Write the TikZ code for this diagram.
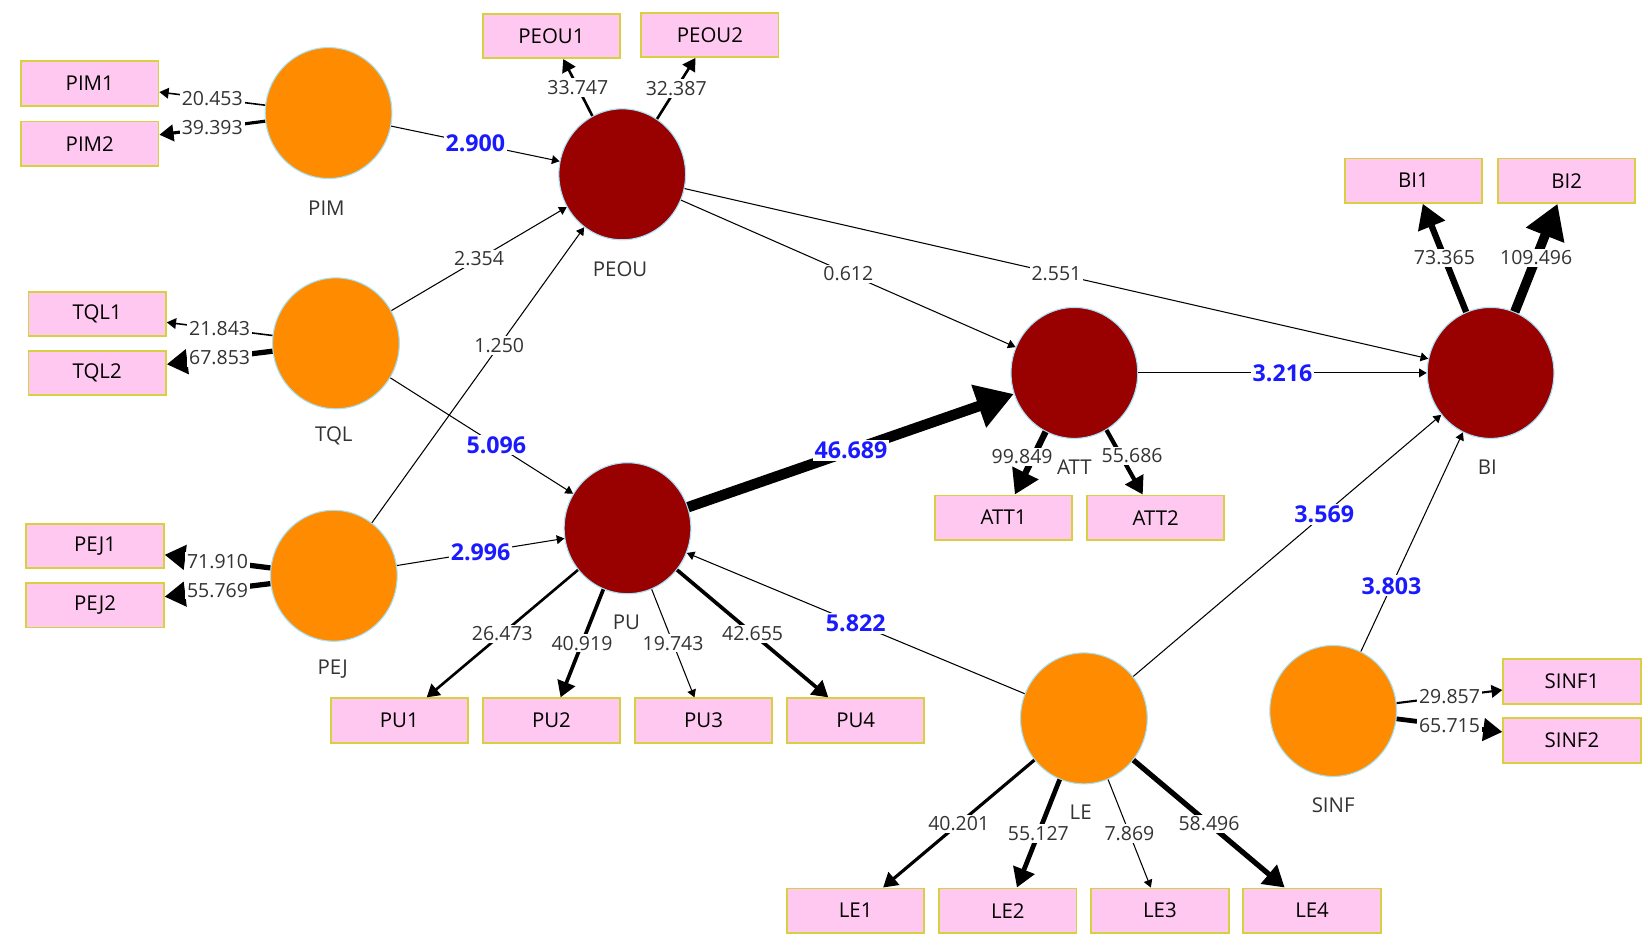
\documentclass[tikz,border=0pt]{standalone}
\usepackage{fontspec}
\setmainfont{Open Sans}
\usetikzlibrary{shapes.geometric,arrows.meta}
\definecolor{org}{HTML}{FF8C00}
\definecolor{drk}{HTML}{990000}
\definecolor{pnk}{HTML}{FFC8F0}
\definecolor{ybd}{HTML}{D8D040}
\definecolor{blu}{HTML}{1A1AFF}
\begin{document}
\begin{tikzpicture}[x=0.02cm,y=-0.02cm,
 lat/.style={ellipse,minimum width=2.4cm,minimum height=2.48cm,draw=cyan!35,line width=0.6pt,inner sep=0},
 ex/.style={lat,fill=org},
 en/.style={lat,fill=drk},
 box/.style={rectangle,fill=pnk,draw=ybd,line width=1pt,minimum width=2.6cm,minimum height=0.84cm,font=\fontsize{11}{13}\selectfont},
 nm/.style={font=\fontsize{11}{13}\selectfont,text=black!80},
 lab/.style={fill=white,inner sep=1pt,font=\fontsize{10.5}{13}\selectfont,text=black!80},
 pc/.style={fill=white,inner sep=1pt,font=\fontsize{12.5}{14}\selectfont\bfseries,text=blu},
 e/.style={draw=black,line width=#1*0.567pt,-{Triangle}},
 e/.default=1]
\useasboundingbox (0,0) rectangle (1560,897);
% latent
\node[ex] (PIM) at (311,107) {};
\node[en] (PEOU) at (589,165) {};
\node[ex] (TQL) at (318,325) {};
\node[ex] (PEJ) at (316,545) {};
\node[en] (PU) at (594,500) {};
\node[en] (ATT) at (1017,353) {};
\node[en] (BI) at (1411,353) {};
\node[ex] (LE) at (1026,680) {};
\node[ex] (SINF) at (1262,673) {};
\node[nm] (nPIM) at (309,197) {PIM};
\node[nm] (nPEOU) at (587,255) {PEOU};
\node[nm] (nTQL) at (316,413) {TQL};
\node[nm] (nPEJ) at (315,633) {PEJ};
\node[nm] (nPU) at (593,589) {PU};
\node[nm] (nBI) at (1408,442) {BI};
\node[nm] (nLE) at (1023,769) {LE};
\node[nm] (nSINF) at (1262,762) {SINF};
% indicators
\node[box] (PIM1) at (85,79) {PIM1};
\node[box] (PIM2) at (85,136) {PIM2};
\node[box] (PEOU1) at (522,34) {PEOU1};
\node[box] (PEOU2) at (672,33) {PEOU2};
\node[box] (TQL1) at (92,297) {TQL1};
\node[box] (TQL2) at (92,353) {TQL2};
\node[box] (PEJ1) at (90,517) {PEJ1};
\node[box] (PEJ2) at (90,573) {PEJ2};
\node[box] (PU1) at (378,682) {PU1};
\node[box] (PU2) at (522,682) {PU2};
\node[box] (PU3) at (666,682) {PU3};
\node[box] (PU4) at (810,682) {PU4};
\node[box] (ATT1) at (950,490) {ATT1};
\node[box] (ATT2) at (1094,490) {ATT2};
\node[box] (BI1) at (1338,171) {BI1};
\node[box] (BI2) at (1483,171) {BI2};
\node[box] (SINF1) at (1488,645) {SINF1};
\node[box] (SINF2) at (1488,701) {SINF2};
\node[box] (LE1) at (810,862) {LE1};
\node[box] (LE2) at (954,862) {LE2};
\node[box] (LE3) at (1098,862) {LE3};
\node[box] (LE4) at (1242,862) {LE4};
% structural paths
\draw[e] (PIM) -- node[pc]{2.900} (PEOU);
\draw[e] (TQL) -- node[lab]{2.354} (PEOU);
\draw[e] (PEJ) -- node[lab,pos=0.6]{1.250} (PEOU);
\draw[e] (TQL) -- node[pc,pos=0.58]{5.096} (PU);
\draw[e] (PEJ) -- node[pc]{2.996} (PU);
\draw[e=10] (PU) -- node[pc,pos=0.5]{46.689} (ATT);
\draw[e] (PEOU) -- node[lab]{0.612} (ATT);
\draw[e] (PEOU) -- node[lab]{2.551} (BI);
\draw[e] (ATT) -- node[pc]{3.216} (BI);
\draw[e] (LE) -- node[pc,pos=0.62]{3.569} (BI);
\draw[e] (SINF) -- node[pc,pos=0.3]{3.803} (BI);
\draw[e] (LE) -- node[pc,pos=0.5]{5.822} (PU);
% loadings
\draw[e=1.5] (PIM) -- node[lab]{20.453} (PIM1);
\draw[e=3] (PIM) -- node[lab]{39.393} (PIM2);
\draw[e=2.5] (PEOU) -- node[lab]{33.747} (PEOU1);
\draw[e=2.5] (PEOU) -- node[lab]{32.387} (PEOU2);
\draw[e=1.5] (TQL) -- node[lab]{21.843} (TQL1);
\draw[e=5] (TQL) -- node[lab]{67.853} (TQL2);
\draw[e=5] (PEJ) -- node[lab]{71.910} (PEJ1);
\draw[e=5] (PEJ) -- node[lab]{55.769} (PEJ2);
\draw[e=2.5] (PU) -- node[lab]{26.473} (PU1);
\draw[e=3.5] (PU) -- node[lab]{40.919} (PU2);
\draw[e=1] (PU) -- node[lab]{19.743} (PU3);
\draw[e=3.5] (PU) -- node[lab]{42.655} (PU4);
\draw[e=6] (ATT) -- node[lab,pos=0.4,xshift=-6]{99.849} (ATT1);
\draw[e=4] (ATT) -- node[lab,pos=0.4,xshift=6]{55.686} (ATT2);
\draw[e=6] (BI) -- node[lab]{73.365} (BI1);
\draw[e=9] (BI) -- node[lab]{109.496} (BI2);
\draw[e=3] (LE) -- node[lab]{40.201} (LE1);
\draw[e=4.5] (LE) -- node[lab]{55.127} (LE2);
\draw[e=1] (LE) -- node[lab]{7.869} (LE3);
\draw[e=5] (LE) -- node[lab]{58.496} (LE4);
\draw[e=2] (SINF) -- node[lab]{29.857} (SINF1);
\draw[e=4.5] (SINF) -- node[lab]{65.715} (SINF2);
\node[nm,fill=white,inner sep=1pt] (nATT) at (1017,442) {ATT};
\end{tikzpicture}
\end{document}
